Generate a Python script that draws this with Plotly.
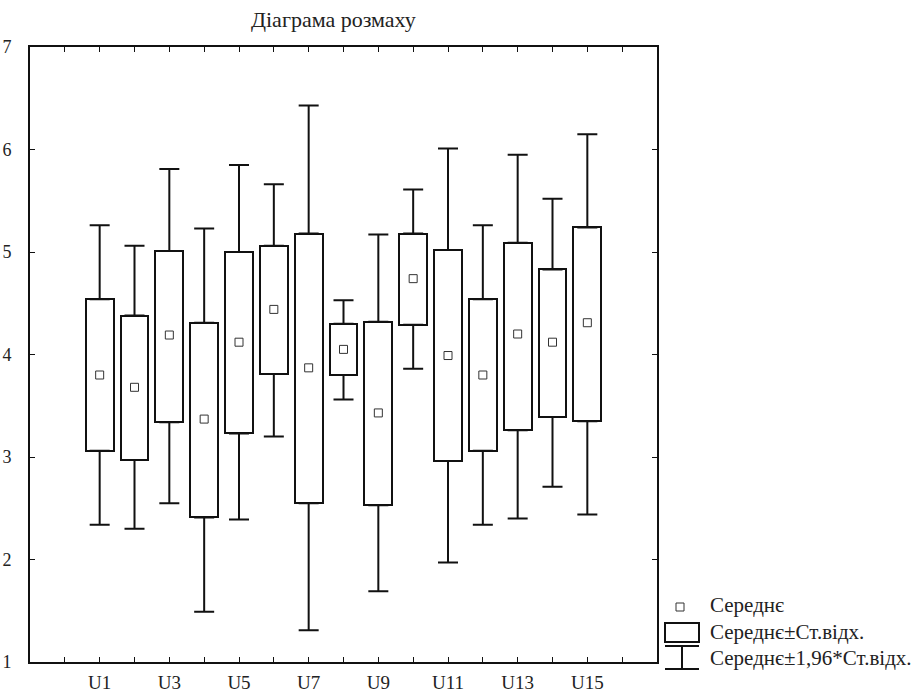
import plotly.graph_objects as go

# ---- data ----
categories = ["U1", "U2", "U3", "U4", "U5", "U6", "U7", "U8",
              "U9", "U10", "U11", "U12", "U13", "U14", "U15"]
mean_vals = [3.80, 3.68, 4.19, 3.37, 4.12, 4.44, 3.87, 4.05,
             3.43, 4.74, 3.99, 3.80, 4.20, 4.12, 4.31]
box_low = [3.06, 2.97, 3.34, 2.41, 3.23, 3.81, 2.55, 3.80,
           2.53, 4.29, 2.96, 3.06, 3.26, 3.39, 3.35]
box_high = [4.54, 4.38, 5.01, 4.31, 5.00, 5.06, 5.18, 4.30,
            4.32, 5.18, 5.02, 4.54, 5.09, 4.83, 5.24]
whisk_low = [2.34, 2.30, 2.55, 1.49, 2.39, 3.20, 1.31, 3.56,
             1.69, 3.86, 1.97, 2.34, 2.40, 2.71, 2.44]
whisk_high = [5.26, 5.06, 5.81, 5.23, 5.85, 5.66, 6.43, 4.53,
              5.17, 5.61, 6.01, 5.26, 5.95, 5.52, 6.15]
y_ticks = [1, 2, 3, 4, 5, 6, 7]
title_text = "Діаграма розмаху"
legend_labels = ["Середнє", "Середнє±Ст.відх.", "Середнє±1,96*Ст.відх."]

FONT = "Liberation Serif"
INK = "#111111"
TXT = "#222222"

xpos = list(range(1, len(categories) + 1))
tick_positions = list(range(0, len(categories) + 2))
tick_text = []
for t in tick_positions:
    if 1 <= t <= len(categories) and t % 2 == 1:
        tick_text.append(categories[t - 1])
    else:
        tick_text.append("")

fig = go.Figure()

# boxes: mean ± SD
fig.add_trace(go.Bar(
    x=xpos,
    y=[h - l for h, l in zip(box_high, box_low)],
    base=box_low,
    width=0.8,
    marker=dict(color="white", line=dict(color=INK, width=2)),
    hoverinfo="skip",
    showlegend=False,
))
# upper whiskers (mean + 1.96 SD)
fig.add_trace(go.Scatter(
    x=xpos, y=box_high, mode="markers",
    marker=dict(size=1, color="rgba(0,0,0,0)"),
    error_y=dict(type="data", symmetric=False,
                 array=[w - b for w, b in zip(whisk_high, box_high)],
                 arrayminus=[0] * len(xpos),
                 width=10, thickness=2, color=INK),
    hoverinfo="skip", showlegend=False,
))
# lower whiskers (mean - 1.96 SD)
fig.add_trace(go.Scatter(
    x=xpos, y=box_low, mode="markers",
    marker=dict(size=1, color="rgba(0,0,0,0)"),
    error_y=dict(type="data", symmetric=False,
                 array=[0] * len(xpos),
                 arrayminus=[b - w for b, w in zip(box_low, whisk_low)],
                 width=10, thickness=2, color=INK),
    hoverinfo="skip", showlegend=False,
))
# means
fig.add_trace(go.Scatter(
    x=xpos, y=mean_vals, mode="markers",
    marker=dict(symbol="square-open", size=8, color="#333333",
                line=dict(width=1, color="#333333")),
    showlegend=False,
))

W, H = 918, 695
# target plot area in screen pixels: x 30..657, y 47..662
L, R, T, B = 30, 657, 47, 662


def px(x):
    return (x - L) / (R - L)


def py(y):
    return (B - y) / (B - T)


shapes = []
# legend: mean marker
shapes.append(dict(type="rect", xref="paper", yref="paper",
                   x0=px(676), x1=px(684), y0=py(611), y1=py(603),
                   line=dict(color="#333333", width=1), fillcolor="white"))
# legend: box
shapes.append(dict(type="rect", xref="paper", yref="paper",
                   x0=px(665), x1=px(699), y0=py(642), y1=py(623),
                   line=dict(color=INK, width=2), fillcolor="white"))
# legend: whisker
shapes.append(dict(type="line", xref="paper", yref="paper",
                   x0=px(665), x1=px(699), y0=py(646), y1=py(646),
                   line=dict(color=INK, width=2)))
shapes.append(dict(type="line", xref="paper", yref="paper",
                   x0=px(682), x1=px(682), y0=py(646), y1=py(669),
                   line=dict(color=INK, width=2)))
shapes.append(dict(type="line", xref="paper", yref="paper",
                   x0=px(665), x1=px(699), y0=py(669), y1=py(669),
                   line=dict(color=INK, width=2)))

annotations = [
    dict(text=title_text, xref="paper", yref="paper", x=px(333), y=py(19),
         xanchor="center", yanchor="middle", showarrow=False,
         font=dict(family=FONT, size=22, color=TXT)),
]
for lbl, yy in zip(legend_labels, [605, 632, 658]):
    annotations.append(dict(text=lbl, xref="paper", yref="paper",
                            x=px(708), y=py(yy), xanchor="left",
                            yanchor="middle", showarrow=False,
                            font=dict(family=FONT, size=21, color=TXT)))

fig.update_layout(
    width=W, height=H,
    margin=dict(l=L, r=W - R, t=T, b=H - B, pad=0, autoexpand=False),
    plot_bgcolor="white", paper_bgcolor="white",
    font=dict(family=FONT, size=19, color=TXT),
    shapes=shapes, annotations=annotations,
    showlegend=False,
    bargap=0,
)
fig.update_xaxes(
    range=[-1, len(categories) + 2], tickmode="array",
    tickvals=tick_positions, ticktext=tick_text,
    ticks="inside", ticklen=5, tickwidth=1, tickcolor=INK,
    showline=True, linewidth=2, linecolor=INK, mirror="ticks",
    showgrid=False, zeroline=False, ticklabelstandoff=2,
    automargin=False, tickfont=dict(family=FONT, size=19, color=TXT),
)
fig.update_yaxes(
    range=[1, 7], tickmode="array", tickvals=y_ticks,
    ticks="inside", ticklen=5, tickwidth=1, tickcolor=INK,
    showline=True, linewidth=2, linecolor=INK, mirror="ticks",
    showgrid=False, zeroline=False, ticklabelstandoff=13,
    automargin=False, tickfont=dict(family=FONT, size=18, color=TXT),
)

fig.write_html(
    "out.html",
    config={"displayModeBar": False},
    post_script="document.body.style.margin='0';document.body.style.overflow='hidden';",
)
